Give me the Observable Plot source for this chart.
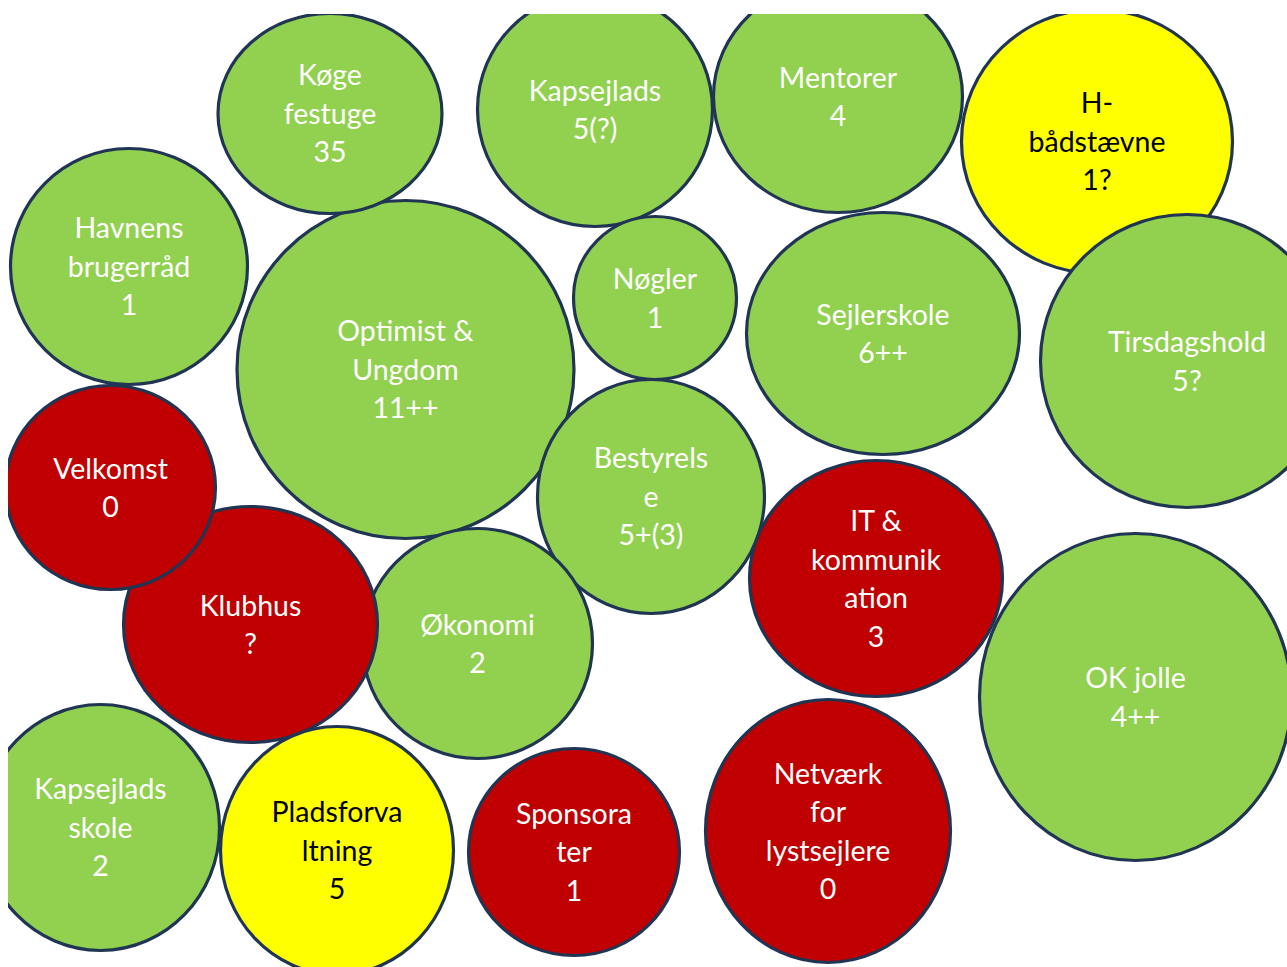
<!DOCTYPE html>
<html>
<head>
<meta charset="utf-8">
<script src="https://cdn.jsdelivr.net/npm/d3@7"></script>
<script src="https://cdn.jsdelivr.net/npm/@observablehq/plot@0.6"></script>
<style>
  html, body { margin: 0; padding: 0; background: #fff; }
  #chart svg { display: block; }
</style>
</head>
<body>
<div id="chart"></div>
<script>
// Bubble labels (drawn order: later ones on top)
const labels = [
  "Optimist &\nUngdom\n11++",
  "Køge\nfestuge\n35",
  "Kapsejlads\n5(?)",
  "Mentorer\n4",
  "H-\nbådstævne\n1?",
  "Tirsdagshold\n5?",
  "Havnens\nbrugerråd\n1",
  "Nøgler\n1",
  "Sejlerskole\n6++",
  "Bestyrels\ne\n5+(3)",
  "Økonomi\n2",
  "Klubhus\n?",
  "Velkomst\n0",
  "IT &\nkommunik\nation\n3",
  "OK jolle\n4++",
  "Kapsejlads\nskole\n2",
  "Pladsforva\nltning\n5",
  "Sponsora\nter\n1",
  "Netværk\nfor\nlystsejlere\n0"
];
// status per bubble: ok / partial / missing
const status = [
  "ok", "ok", "ok", "ok", "partial", "ok", "ok", "ok", "ok", "ok",
  "ok", "missing", "missing", "missing", "ok", "ok", "partial", "missing", "missing"
];
// bubble centre (layout coordinates) and horizontal / vertical radii
const cx = [405, 329.5, 594.5, 837.5, 1096.5, 1186.5, 128.5, 654.5, 882.5, 650.5, 477, 250, 110, 875.5, 1135, 100, 336.5, 573.5, 827.5];
const cy = [369, 113, 109, 96, 141, 360.5, 266, 297.5, 333, 496, 643, 624, 487, 578, 696.5, 827, 850, 851.5, 830.5];
const rx = [168.5, 112, 117.5, 124.5, 135.5, 146.5, 118.5, 81.5, 136.5, 113.5, 115, 127, 105, 126.5, 156, 119, 116.5, 105.5, 122.5];
const ry = [169, 100, 117, 116, 132, 146.5, 118, 81.5, 121, 117, 115, 118, 102, 118, 163.5, 123, 124, 103.5, 131.5];

const statusDomain = ["ok", "partial", "missing"];
const statusColors = ["#92D050", "#FFFF00", "#C00000"];

const data = labels.map((label, i) => ({label, status: status[i], cx: cx[i], cy: cy[i], rx: rx[i], ry: ry[i]}));

// custom ellipse symbol: radius from Plot's r channel is the vertical radius
function ellipseSymbol(aspect) {
  const k = 0.5522847498;
  return {
    draw(context, size) {
      const r = Math.sqrt(size / Math.PI);
      const a = r * aspect, b = r;
      context.moveTo(a, 0);
      context.bezierCurveTo(a, k * b, k * a, b, 0, b);
      context.bezierCurveTo(-k * a, b, -a, k * b, -a, 0);
      context.bezierCurveTo(-a, -k * b, -k * a, -b, 0, -b);
      context.bezierCurveTo(k * a, -b, a, -k * b, a, 0);
      context.closePath();
    }
  };
}

const W = 1287, H = 967;
const plot = Plot.plot({
  width: W,
  height: H,
  marginLeft: 8,
  marginTop: 14,
  marginRight: 0,
  marginBottom: 0,
  x: {type: "linear", domain: [8, W], range: [8, W], axis: null},
  y: {type: "linear", domain: [14, H], range: [14, H], axis: null},
  r: {type: "identity"},
  color: {type: "ordinal", domain: statusDomain, range: statusColors},
  symbol: {domain: labels, range: data.map(d => ellipseSymbol(d.rx / d.ry))},
  style: {background: "#fff"},
  marks: [
    Plot.dot(data, {
      x: "cx", y: "cy", r: "ry", symbol: "label",
      fill: "status", stroke: "#1F3553", strokeWidth: 3.2,
      sort: null, clip: true
    }),
    Plot.text(data, {
      filter: d => d.status !== "partial",
      x: "cx", y: "cy", dy: -2, text: "label",
      fill: "white", fontFamily: "Lato", fontSize: 28.5, lineHeight: 1.35,
      clip: true
    }),
    Plot.text(data, {
      filter: d => d.status === "partial",
      x: "cx", y: "cy", dy: -2, text: "label",
      fill: "black", fontFamily: "Lato", fontSize: 28.5, lineHeight: 1.35,
      clip: true
    })
  ]
});
document.getElementById("chart").appendChild(plot);
</script>
</body>
</html>
